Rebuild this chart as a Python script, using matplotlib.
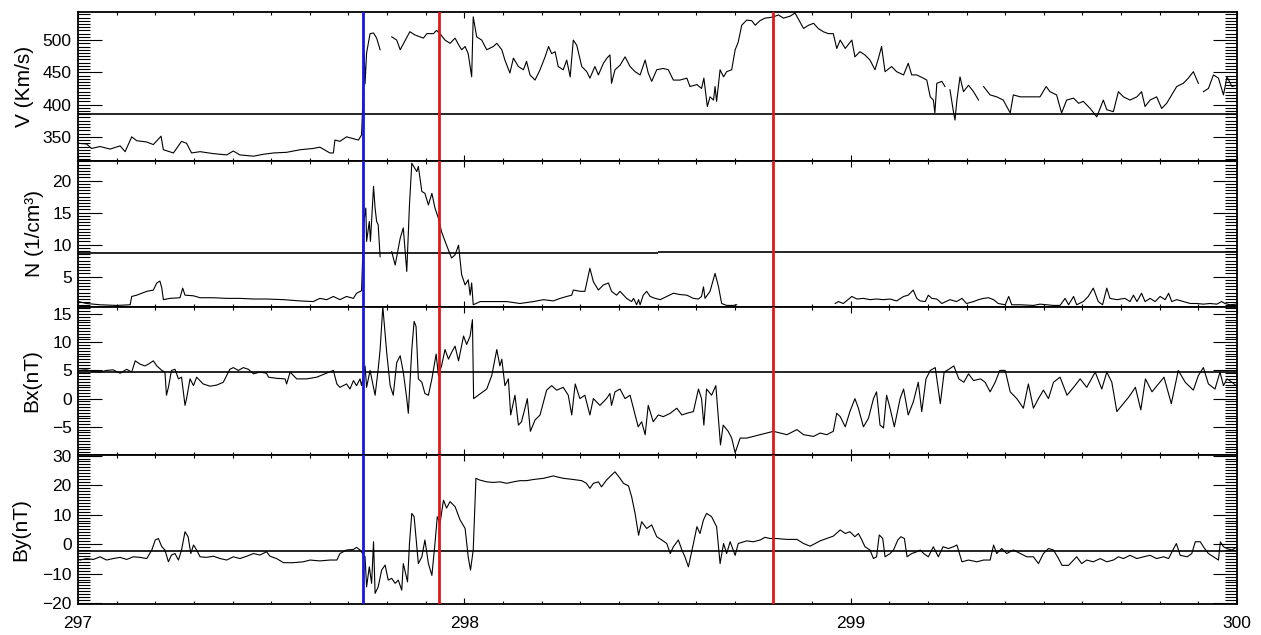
import numpy as np
import matplotlib
matplotlib.use("Agg")
import matplotlib.pyplot as plt
from matplotlib.ticker import MultipleLocator, FixedLocator

plt.rcParams['font.family'] = ['Liberation Sans', 'DejaVu Sans']

nan = float('nan')

# ---------------- data (day of year, value) ----------------
v_series = [
    (297.000, 340), (297.022, 339), (297.035, 332), (297.057, 335), (297.083, 331), (297.109, 336),
    (297.122, 327), (297.139, 350), (297.152, 344), (297.178, 342), (297.195, 338), (297.215, 351),
    (297.221, 330), (297.247, 325), (297.268, 343), (297.281, 340), (297.294, 325), (297.316, 327),
    (297.350, 324), (297.385, 322), (297.402, 328), (297.419, 322), (297.454, 320), (297.480, 323),
    (297.506, 325), (297.540, 326), (297.575, 330), (297.609, 332), (297.626, 334), (297.652, 325),
    (297.661, 325), (297.665, 345), (297.678, 343), (297.695, 350), (297.713, 347), (297.726, 345),
    (297.734, 353), (297.739, 430), (297.741, 478), (297.743, 432), (297.747, 480), (297.756, 510),
    (297.765, 511), (297.773, 503), (297.782, 485), (297.797, nan),
    (297.812, 505), (297.825, 500), (297.834, 485), (297.859, 513), (297.872, 508), (297.894, 503),
    (297.903, 510), (297.920, 510), (297.928, 515), (297.937, 510), (297.950, 500), (297.963, 495),
    (297.976, 503), (297.985, 493), (297.993, 485), (298.002, 490), (298.010, 479), (298.019, 443),
    (298.023, 536), (298.032, 505), (298.045, 500), (298.058, 485), (298.075, 490), (298.084, 495),
    (298.097, 485), (298.105, 469), (298.118, 449), (298.127, 472), (298.140, 459), (298.153, 454),
    (298.161, 467), (298.170, 446), (298.183, 438), (298.196, 454), (298.209, 474), (298.218, 490),
    (298.226, 479), (298.235, 482), (298.243, 459), (298.256, 454), (298.265, 469), (298.274, 443),
    (298.282, 500), (298.291, 492), (298.304, 459), (298.317, 451), (298.325, 441), (298.338, 459),
    (298.347, 446), (298.360, 464), (298.369, 472), (298.377, 477), (298.381, 433), (298.390, 454),
    (298.403, 461), (298.416, 474), (298.429, 459), (298.442, 451), (298.455, 446), (298.468, 469),
    (298.476, 449), (298.485, 436), (298.498, 454), (298.515, 456), (298.528, 454), (298.541, 438),
    (298.558, 438), (298.576, 441), (298.584, 428), (298.602, 431), (298.614, 425), (298.620, 441),
    (298.629, 397), (298.636, 412), (298.645, 407), (298.649, 428), (298.653, 405), (298.662, 454),
    (298.671, 443), (298.679, 451), (298.692, 454), (298.701, 485), (298.709, 497), (298.718, 523),
    (298.731, 531), (298.744, 530), (298.753, 523), (298.765, 530), (298.778, 534), (298.791, 535),
    (298.800, 536), (298.813, 539), (298.826, 534), (298.843, 537), (298.856, 542), (298.869, 528),
    (298.878, 518), (298.891, 523), (298.904, 526), (298.916, 518), (298.929, 513), (298.942, 510),
    (298.955, 510), (298.964, 487), (298.973, 500), (298.986, 487), (299.003, 500), (299.011, 474),
    (299.024, 482), (299.037, 477), (299.050, 469), (299.063, 454), (299.072, 472), (299.080, 490),
    (299.089, 451), (299.106, 459), (299.119, 451), (299.137, 446), (299.149, 464), (299.158, 446),
    (299.171, 446), (299.188, 441), (299.197, 438), (299.206, 412), (299.214, 407), (299.218, 387),
    (299.223, 433), (299.236, 436), (299.244, 428), (299.250, nan),
    (299.257, 423), (299.266, 389), (299.270, 376), (299.275, 407), (299.283, 443), (299.292, 420),
    (299.305, 430), (299.318, 420), (299.331, 407), (299.337, nan),
    (299.344, 428), (299.361, 415), (299.378, 412), (299.395, 407), (299.404, 397), (299.413, 387),
    (299.421, 415), (299.439, 412), (299.464, 412), (299.490, 412), (299.506, 428), (299.516, 420),
    (299.533, 415), (299.546, 387), (299.559, 407), (299.577, 410), (299.590, 402), (299.602, 405),
    (299.620, 394), (299.637, 381), (299.654, 407), (299.663, 392), (299.680, 389), (299.693, 420),
    (299.706, 412), (299.723, 407), (299.741, 412), (299.753, 420), (299.762, 397), (299.775, 407),
    (299.792, 412), (299.805, 394), (299.818, 402), (299.831, 415), (299.844, 428), (299.861, 433),
    (299.874, 441), (299.887, 451), (299.900, 433), (299.906, nan),
    (299.913, 420), (299.926, 425), (299.939, 446), (299.952, 441), (299.965, 415), (299.974, 443),
    (299.987, 428), (299.998, 430),
]

n_series = [
    (297.001, 1.1), (297.022, 0.8), (297.057, 0.6), (297.100, 0.5), (297.135, 0.6), (297.139, 1.9),
    (297.152, 2.1), (297.178, 2.7), (297.195, 2.9), (297.204, 4.0), (297.212, 4.3), (297.217, 3.2),
    (297.221, 1.4), (297.238, 1.6), (297.264, 1.7), (297.271, 3.2), (297.277, 2.1), (297.299, 2.0),
    (297.316, 1.7), (297.350, 1.7), (297.385, 1.6), (297.419, 1.6), (297.454, 1.5), (297.488, 1.5),
    (297.532, 1.4), (297.575, 1.2), (297.609, 1.1), (297.626, 1.6), (297.644, 1.4), (297.661, 1.9),
    (297.678, 1.4), (297.695, 1.9), (297.713, 1.6), (297.721, 2.4), (297.734, 2.8),
    (297.740, 13.6), (297.745, 15.7), (297.747, 10.5), (297.754, 13.6), (297.757, 10.5), (297.765, 19.1),
    (297.769, 15.7), (297.773, 13.6), (297.777, 13.1), (297.782, 8.1), (297.797, nan),
    (297.812, 8.9), (297.821, 6.8), (297.834, 11.0), (297.842, 12.6), (297.851, 5.8), (297.858, 16.2),
    (297.864, 22.7), (297.872, 21.9), (297.877, 21.4), (297.881, 22.2), (297.890, 18.3), (297.898, 18.0),
    (297.907, 16.2), (297.916, 18.0), (297.924, 15.7), (297.933, 14.1), (297.941, 12.0), (297.954, 9.9),
    (297.967, 7.9), (297.976, 8.4), (297.985, 9.9), (297.993, 5.3), (298.002, 3.7), (298.010, 4.5),
    (298.015, 2.1), (298.019, 4.0), (298.023, 0.6), (298.041, 1.1), (298.075, 1.1), (298.110, 1.1),
    (298.144, 0.8), (298.179, 1.1), (298.205, 1.4), (298.230, 1.2), (298.248, 1.6), (298.265, 1.9),
    (298.278, 2.1), (298.282, 2.9), (298.300, 2.7), (298.312, 2.7), (298.325, 6.3), (298.334, 4.2),
    (298.347, 2.9), (298.360, 3.7), (298.373, 4.0), (298.381, 2.7), (298.394, 2.1), (298.403, 2.7),
    (298.420, 1.6), (298.433, 1.1), (298.438, 1.6), (298.446, 0.6), (298.451, 1.4), (298.455, 0.6),
    (298.463, 2.1), (298.472, 2.7), (298.481, 1.9), (298.494, 1.6), (298.507, 1.4), (298.524, 1.9),
    (298.541, 2.4), (298.558, 2.2), (298.576, 2.1), (298.593, 1.6), (298.606, 1.5), (298.614, 1.9),
    (298.619, 3.4), (298.623, 1.6), (298.636, 2.7), (298.649, 5.5), (298.658, 3.4), (298.666, 0.8),
    (298.679, 0.5), (298.696, 0.5), (298.705, 0.6), (298.800, nan),
    (298.960, 0.8), (298.968, 1.1), (298.981, 0.8), (299.003, 1.9), (299.016, 1.5), (299.033, 1.6),
    (299.050, 1.4), (299.067, 1.5), (299.085, 1.4), (299.102, 1.5), (299.119, 1.2), (299.137, 1.9),
    (299.149, 2.1), (299.162, 2.9), (299.171, 1.6), (299.180, 1.2), (299.193, 1.1), (299.201, 2.1),
    (299.210, 1.6), (299.223, 1.5), (299.236, 0.8), (299.257, 1.4), (299.274, 1.1), (299.288, 1.6),
    (299.300, 0.8), (299.318, 1.1), (299.331, 1.4), (299.344, 1.6), (299.357, 1.7), (299.370, 1.4),
    (299.382, 0.8), (299.400, 0.6), (299.409, 1.9), (299.417, 0.6), (299.439, 0.6), (299.473, 0.5),
    (299.490, 0.7), (299.525, 0.5), (299.542, 0.5), (299.555, 1.6), (299.564, 0.6), (299.577, 1.9),
    (299.585, 0.6), (299.602, 1.1), (299.615, 1.9), (299.628, 3.2), (299.641, 1.1), (299.652, 0.6),
    (299.663, 3.2), (299.671, 1.6), (299.689, 1.4), (299.710, 1.6), (299.723, 1.1), (299.732, 2.1),
    (299.741, 1.1), (299.753, 2.4), (299.762, 1.1), (299.775, 1.6), (299.788, 1.1), (299.801, 1.9),
    (299.814, 1.4), (299.823, 2.4), (299.831, 1.1), (299.844, 1.4), (299.861, 1.1), (299.879, 0.8),
    (299.896, 0.8), (299.913, 0.7), (299.930, 0.8), (299.948, 0.7), (299.960, 1.1), (299.969, 0.8),
    (299.982, 0.6), (299.998, 0.7),
]

bx_series = [
    (297.001, 5.0), (297.022, 5.1), (297.040, 4.8), (297.057, 4.7), (297.074, 5.0), (297.091, 5.1),
    (297.109, 4.5), (297.126, 5.2), (297.139, 4.7), (297.148, 6.7), (297.161, 6.1), (297.173, 5.8),
    (297.182, 6.1), (297.195, 6.7), (297.204, 5.8), (297.217, 5.0), (297.225, 4.7), (297.229, 0.6),
    (297.234, 2.0), (297.242, 5.0), (297.251, 5.2), (297.260, 3.5), (297.268, 3.8), (297.277, -1.2),
    (297.281, 0.0), (297.290, 3.5), (297.299, 2.3), (297.307, 3.8), (297.324, 2.6), (297.342, 2.2),
    (297.359, 2.4), (297.376, 2.9), (297.393, 5.2), (297.402, 5.5), (297.415, 5.0), (297.428, 5.5),
    (297.441, 5.2), (297.454, 4.4), (297.471, 4.7), (297.488, 4.5), (297.493, 3.8), (297.514, 3.6),
    (297.536, 3.5), (297.540, 2.6), (297.549, 4.7), (297.566, 3.5), (297.592, 3.5), (297.618, 3.8),
    (297.639, 4.4), (297.661, 5.0), (297.670, 2.6), (297.678, 2.0), (297.695, 2.6), (297.704, 1.7),
    (297.713, 3.2), (297.721, 2.3), (297.730, 3.5), (297.734, 2.3), (297.743, 5.8), (297.747, 2.0),
    (297.756, 5.0), (297.769, 0.6), (297.777, 5.2), (297.782, 8.7), (297.789, 16.3), (297.799, 8.2),
    (297.808, 2.3), (297.816, 0.6), (297.825, 6.4), (297.834, 7.6), (297.842, 4.7), (297.851, 0.0),
    (297.855, -2.6), (297.864, 8.7), (297.870, 13.7), (297.875, 12.8), (297.881, 3.5), (297.890, 2.9),
    (297.898, 0.9), (297.907, 0.6), (297.916, 3.5), (297.927, 7.9), (297.933, 4.1), (297.941, 5.8),
    (297.950, 8.7), (297.959, 7.0), (297.967, 8.2), (297.976, 9.3), (297.985, 6.7), (297.998, 11.1),
    (298.006, 9.6), (298.015, 11.1), (298.021, 14.0), (298.024, 0.0), (298.036, 0.6), (298.058, 1.7),
    (298.071, 4.1), (298.084, 8.7), (298.092, 5.8), (298.097, 7.0), (298.105, 2.3), (298.114, 3.5),
    (298.120, -2.9), (298.131, 0.6), (298.140, -4.7), (298.148, -4.1), (298.157, -1.7), (298.163, 0.0),
    (298.171, -5.8), (298.183, -3.8), (298.196, -2.9), (298.213, 1.5), (298.226, 2.3), (298.239, 1.5),
    (298.256, 2.0), (298.269, 0.6), (298.278, -2.9), (298.287, 2.6), (298.299, 0.0), (298.312, 0.6),
    (298.325, -2.9), (298.334, 0.0), (298.351, -1.2), (298.368, 0.0), (298.377, 0.9), (298.381, -1.2),
    (298.390, 1.2), (298.403, 1.7), (298.416, 0.0), (298.429, 0.6), (298.442, -2.9), (298.450, -5.0),
    (298.459, -4.1), (298.468, -6.4), (298.476, -1.2), (298.489, -4.1), (298.502, -2.9), (298.515, -3.2),
    (298.533, -2.6), (298.550, -1.7), (298.563, -2.9), (298.576, -2.6), (298.593, -2.3), (298.606, 1.7),
    (298.614, 0.0), (298.620, -4.7), (298.627, 1.7), (298.640, 0.6), (298.651, 2.3), (298.657, -2.9),
    (298.663, -8.2), (298.670, -4.7), (298.683, -5.8), (298.692, -7.0), (298.701, -9.6), (298.714, -7.0),
    (298.731, -7.0), (298.748, -6.7), (298.766, -6.4), (298.783, -6.1), (298.800, -5.8), (298.817, -6.1),
    (298.835, -6.4), (298.861, -5.5), (298.878, -6.4), (298.904, -6.7), (298.921, -6.1), (298.938, -6.4),
    (298.955, -5.8), (298.964, -2.6), (298.973, -3.2), (298.986, -5.0), (298.998, -2.3), (299.011, 0.0),
    (299.020, -1.7), (299.033, -5.0), (299.046, -3.5), (299.059, 0.0), (299.067, 1.2), (299.076, -4.7),
    (299.085, -5.2), (299.093, 0.6), (299.102, -1.7), (299.113, -5.0), (299.128, 0.0), (299.137, 1.7),
    (299.149, -2.9), (299.162, -0.6), (299.175, 2.9), (299.184, -2.3), (299.195, 3.5), (299.206, 5.0),
    (299.219, 5.5), (299.232, -0.9), (299.242, 4.7), (299.254, 5.2), (299.267, 5.8), (299.280, 3.5),
    (299.293, 2.9), (299.305, 4.4), (299.318, 3.2), (299.336, 3.5), (299.348, 2.9), (299.361, 1.2),
    (299.374, 2.9), (299.386, 5.0), (299.400, 5.0), (299.413, 1.2), (299.430, 0.0), (299.447, -1.7),
    (299.460, 2.6), (299.473, -1.7), (299.486, 0.0), (299.499, 1.5), (299.512, 0.0), (299.525, 2.9),
    (299.542, 3.8), (299.560, 0.6), (299.577, 2.0), (299.594, 3.5), (299.611, 2.0), (299.633, 4.7),
    (299.650, 1.7), (299.663, 4.7), (299.676, 2.9), (299.689, -2.3), (299.702, -1.2), (299.720, 0.3),
    (299.737, 2.0), (299.751, -2.0), (299.763, 3.5), (299.780, 1.2), (299.793, 2.3), (299.811, 3.8),
    (299.830, -0.9), (299.848, 5.0), (299.866, 2.9), (299.887, 1.5), (299.900, 4.1), (299.913, 5.5),
    (299.926, 2.6), (299.943, 1.7), (299.956, 4.7), (299.965, 2.3), (299.974, 3.5), (299.987, 2.9),
    (299.998, 2.3),
]

by_series = [
    (297.005, -5.4), (297.022, -4.9), (297.040, -5.2), (297.057, -4.3), (297.074, -5.4), (297.091, -4.9),
    (297.109, -4.5), (297.126, -5.2), (297.143, -4.3), (297.161, -4.5), (297.178, -4.9), (297.191, -2.0),
    (297.200, 1.4), (297.208, 1.9), (297.217, -0.9), (297.225, -2.0), (297.234, -6.0), (297.242, -3.7),
    (297.251, -3.2), (297.260, -5.4), (297.268, -2.0), (297.277, 4.2), (297.285, 2.5), (297.292, -3.2),
    (297.299, -0.3), (297.307, -2.0), (297.316, -4.3), (297.333, -4.5), (297.350, -4.1), (297.368, -4.9),
    (297.385, -5.4), (297.402, -4.3), (297.419, -4.9), (297.437, -4.1), (297.454, -3.2), (297.471, -3.7),
    (297.488, -2.6), (297.497, -4.1), (297.514, -4.9), (297.532, -6.3), (297.557, -6.3), (297.583, -6.0),
    (297.601, -5.4), (297.626, -5.7), (297.652, -5.4), (297.670, -5.4), (297.678, -3.2), (297.695, -2.0),
    (297.713, -1.8), (297.721, -1.1), (297.730, -2.0), (297.743, -4.3), (297.747, -14.5), (297.754, -7.7),
    (297.760, -13.3), (297.765, 0.8), (297.769, -16.7), (297.777, -14.5), (297.786, -8.8), (297.795, -7.1),
    (297.803, -12.2), (297.812, -11.6), (297.821, -13.3), (297.829, -12.2), (297.838, -15.6), (297.842, -6.6),
    (297.846, -8.8), (297.853, -12.8), (297.858, 0.2), (297.864, 10.4), (297.870, 9.3), (297.881, -6.6),
    (297.890, -4.3), (297.898, 1.4), (297.907, -6.6), (297.916, -10.6), (297.924, 0.2), (297.930, 9.3),
    (297.937, 7.0), (297.946, 14.9), (297.954, 12.2), (297.963, 14.4), (297.976, 12.7), (297.989, 8.2),
    (298.002, 5.3), (298.010, -4.3), (298.016, -8.8), (298.023, -2.0), (298.030, 22.3), (298.040, 21.7),
    (298.058, 21.1), (298.075, 20.9), (298.092, 21.1), (298.110, 20.6), (298.127, 21.1), (298.144, 21.5),
    (298.161, 21.5), (298.179, 21.9), (298.205, 22.3), (298.230, 23.1), (298.256, 22.3), (298.282, 21.9),
    (298.304, 21.5), (298.316, 20.6), (298.325, 18.9), (298.334, 20.6), (298.347, 21.1), (298.355, 19.4),
    (298.368, 21.7), (298.381, 23.4), (298.390, 24.5), (298.403, 22.3), (298.412, 20.6), (298.425, 19.7),
    (298.433, 16.1), (298.442, 10.4), (298.451, 3.0), (298.459, 7.6), (298.472, 5.3), (298.485, 6.5),
    (298.498, 2.5), (298.511, 1.4), (298.524, 0.2), (298.533, -3.2), (298.541, -0.9), (298.554, 1.4),
    (298.563, -2.0), (298.571, -4.3), (298.580, -7.7), (298.593, 0.2), (298.602, 5.9), (298.610, 3.6),
    (298.619, 8.2), (298.627, 10.4), (298.640, 9.3), (298.653, 5.9), (298.662, -6.6), (298.671, 0.2),
    (298.679, -3.2), (298.688, 0.8), (298.701, -3.8), (298.709, 0.2), (298.731, 1.1), (298.748, 0.8),
    (298.766, 1.4), (298.778, 2.3), (298.791, 1.9), (298.808, 1.9), (298.834, 1.6), (298.861, 1.6),
    (298.878, 0.2), (298.895, -0.7), (298.921, 1.1), (298.938, 1.9), (298.955, 2.7), (298.973, 4.8),
    (298.986, 3.6), (298.998, 4.2), (299.011, 2.5), (299.020, 3.6), (299.029, 1.4), (299.037, -0.9),
    (299.050, -2.0), (299.059, -4.9), (299.067, -4.3), (299.074, 3.1), (299.083, 1.9), (299.089, -4.3),
    (299.102, -3.2), (299.111, -2.0), (299.122, 1.4), (299.130, 2.5), (299.139, 1.9), (299.146, -4.3),
    (299.158, -3.2), (299.171, -2.6), (299.180, -2.0), (299.189, -3.2), (299.201, -4.3), (299.214, -0.9),
    (299.227, -4.3), (299.239, -0.9), (299.253, -1.5), (299.266, -0.9), (299.275, -0.3), (299.288, -6.0),
    (299.305, -5.4), (299.327, -6.0), (299.344, -5.4), (299.361, -5.4), (299.370, -0.3), (299.378, -3.2),
    (299.391, -1.5), (299.404, -3.2), (299.421, -2.0), (299.439, -3.2), (299.456, -4.3), (299.473, -4.3),
    (299.486, -6.6), (299.499, -3.2), (299.512, -1.5), (299.525, -2.0), (299.538, -4.9), (299.547, -7.2),
    (299.564, -7.2), (299.577, -5.4), (299.585, -4.3), (299.598, -6.6), (299.611, -5.4), (299.628, -6.0),
    (299.646, -4.9), (299.663, -6.0), (299.680, -5.4), (299.693, -4.3), (299.706, -4.9), (299.723, -3.8),
    (299.741, -4.9), (299.758, -4.3), (299.775, -3.8), (299.792, -4.9), (299.810, -4.3), (299.823, -4.9),
    (299.834, -2.0), (299.843, 0.2), (299.853, -3.8), (299.871, -4.3), (299.883, -3.2), (299.892, 0.8),
    (299.905, 0.8), (299.913, -0.9), (299.926, -3.2), (299.939, -4.3), (299.952, -5.4), (299.957, 0.8),
    (299.965, -0.9), (299.974, -1.5), (299.987, -2.0), (299.998, -1.1),
]

# reference (horizontal) levels
v_ref = 386
n_ref_bounds = [297.0, 298.5, 300.0]
n_ref_levels = [8.7, 8.9]
bx_ref = 4.8
by_ref = -2.3

# event markers
blue_event = 297.738
red_events = [297.935, 298.800]

# labels
y_labels = ["V (Km/s)", "N (1/cm\u00b3)", "Bx(nT)", "By(nT)"]
x_ticks = [297, 298, 299, 300]

# ---------------- layout ----------------
W, H = 1261, 635
fig = plt.figure(figsize=(W / 100, H / 100), dpi=100)
left_px, right_px = 78, 1237
edges_px = [11.7, 160.7, 306.7, 455.0, 604.0]

ylims = [(313, 544), (0.3, 23.1), (-10.0, 16.3), (-20.3, 30.2)]
majors = [[350, 400, 450, 500], [5, 10, 15, 20], [-5, 0, 5, 10, 15], [-20, -10, 0, 10, 20, 30]]
minors = [5, 0.5, 0.5, 1]
label_x_px = [24, 35, 32, 21]

series = [v_series, n_series, bx_series, by_series]

axes = []
for i in range(4):
    top, bot = edges_px[i], edges_px[i + 1]
    ax = fig.add_axes([left_px / W, 1 - bot / H, (right_px - left_px) / W, (bot - top) / H])
    axes.append(ax)
    t = np.array([p[0] for p in series[i]])
    y = np.array([p[1] for p in series[i]], dtype=float)
    ax.plot(t, y, color='black', lw=0.8, zorder=3)

    ax.set_xlim(297, 300)
    ax.set_ylim(*ylims[i])
    ax.yaxis.set_major_locator(FixedLocator(majors[i]))
    ax.yaxis.set_minor_locator(MultipleLocator(minors[i]))
    ax.xaxis.set_major_locator(FixedLocator(x_ticks))
    ax.xaxis.set_minor_locator(MultipleLocator(0.1))
    ax.tick_params(axis='both', which='both', direction='in', top=True, right=True,
                   width=0.8, colors='black', labelsize=12.5)
    ax.tick_params(axis='y', which='major', length=17, pad=4.5)
    ax.tick_params(axis='y', which='minor', length=8.5)
    ax.tick_params(axis='x', which='major', length=4, pad=9)
    ax.tick_params(axis='x', which='minor', length=2.5)
    if i < 3:
        ax.tick_params(axis='x', labelbottom=False)
    for s in ax.spines.values():
        s.set_linewidth(1.3)
    ax.set_ylabel(y_labels[i], fontsize=15, va='center')
    ax.yaxis.set_label_coords((label_x_px[i] - left_px) / (right_px - left_px), 0.5)

    for r in red_events:
        ax.axvline(r, color='#e01818', lw=2.0, zorder=5)
    ax.axvline(blue_event, color='#1818e0', lw=2.0, zorder=5)

axes[0].axhline(v_ref, color='black', lw=1.2, zorder=2)
for k in range(len(n_ref_levels)):
    axes[1].hlines(n_ref_levels[k], n_ref_bounds[k], n_ref_bounds[k + 1], color='black', lw=1.2, zorder=2)
axes[2].axhline(bx_ref, color='black', lw=1.2, zorder=2)
axes[3].axhline(by_ref, color='black', lw=1.2, zorder=2)

fig.savefig("out.png", dpi=100)
